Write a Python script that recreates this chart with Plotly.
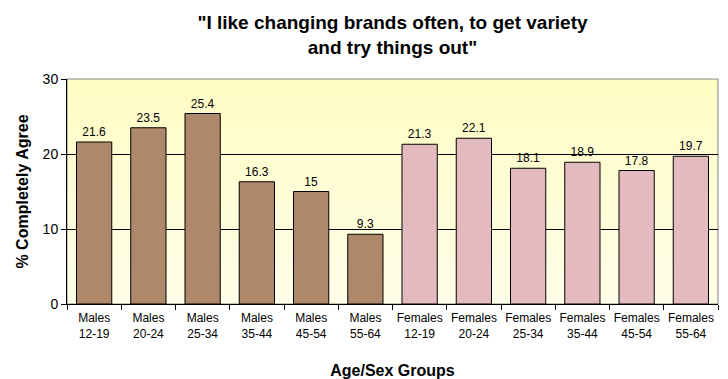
import plotly.graph_objects as go

categories = ["Males<br>12-19", "Males<br>20-24", "Males<br>25-34", "Males<br>35-44",
              "Males<br>45-54", "Males<br>55-64", "Females<br>12-19", "Females<br>20-24",
              "Females<br>25-34", "Females<br>35-44", "Females<br>45-54", "Females<br>55-64"]
values = [21.6, 23.5, 25.4, 16.3, 15, 9.3, 21.3, 22.1, 18.1, 18.9, 17.8, 19.7]
labels = ["21.6", "23.5", "25.4", "16.3", "15", "9.3", "21.3", "22.1", "18.1", "18.9", "17.8", "19.7"]
sex = ["M"] * 6 + ["F"] * 6

male_color = "#AD886A"
female_color = "#E3BBBF"
colors = [male_color if s == "M" else female_color for s in sex]

fig = go.Figure()
fig.add_trace(go.Bar(
    x=categories, y=values,
    marker=dict(color=colors, line=dict(color="black", width=1)),
    text=labels, textposition="outside", cliponaxis=False,
    textfont=dict(family="Liberation Sans, Arial, sans-serif", size=12, color="black"),
    width=0.65,
))

# pale yellow gradient background of the plot area
n = 24
top = (255, 252, 196)
bot = (255, 255, 232)
shapes = []
for i in range(n):
    t = i / (n - 1)
    c = tuple(round(top[k] + (bot[k] - top[k]) * t) for k in range(3))
    shapes.append(dict(type="rect", xref="x domain", yref="y domain",
                       x0=0, x1=1, y0=1 - (i + 1) / n, y1=1 - i / n,
                       fillcolor="rgb(%d,%d,%d)" % c, line=dict(width=0), layer="below"))
shapes.append(dict(type="rect", xref="x domain", yref="y domain", x0=0, x1=1, y0=0, y1=1,
                   line=dict(color="#808080", width=1), layer="below"))

# the page has an 8px body margin, so the figure is sized to fit the rest of the window
fig.update_layout(
    width=720, height=371,
    margin=dict(l=59, r=10, t=71, b=75),
    paper_bgcolor="white", plot_bgcolor="#FFFFE0",
    shapes=shapes,
    showlegend=False,
    title=dict(text="\"I like changing brands often, to get variety<br>and try things out\"",
               x=0.5, xanchor="center", xref="paper", yref="container", y=0.943, yanchor="middle",
               font=dict(family="Liberation Sans, Arial, sans-serif", size=19, color="black", weight="bold")),
    font=dict(family="Liberation Sans, Arial, sans-serif", size=12, color="black"),
    bargap=0.35,
)
fig.update_xaxes(
    tickson="boundaries", ticks="outside", ticklen=5, tickcolor="black", tickangle=0,
    ticklabelstandoff=3,
    showline=True, linecolor="black", linewidth=1, showgrid=False, automargin=False,
    tickfont=dict(size=12, color="black"),
    title=dict(text="Age/Sex Groups", font=dict(size=16, weight="bold", color="black"), standoff=24),
)
fig.update_yaxes(
    range=[0, 30], dtick=10, ticks="outside", ticklen=5, tickcolor="black",
    showline=True, linecolor="black", linewidth=1, automargin=False,
    showgrid=True, gridcolor="black", gridwidth=1,
    tickfont=dict(size=14, color="black"),
    title=dict(text="% Completely Agree", font=dict(size=16, weight="bold", color="black"), standoff=10),
    zeroline=False,
)

fig.write_html("out.html")
